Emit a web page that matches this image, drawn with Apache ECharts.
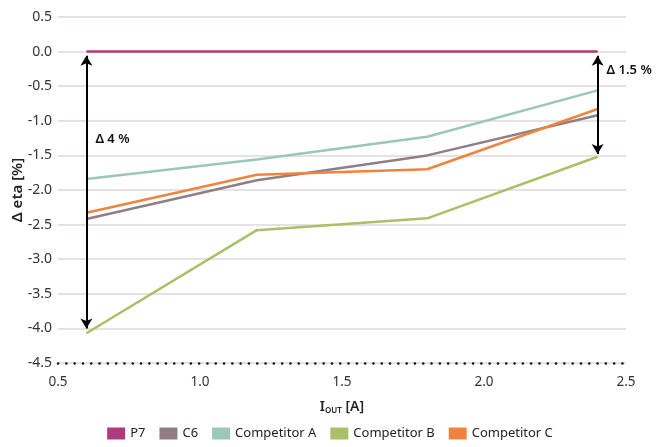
<!DOCTYPE html>
<html>
<head>
<meta charset="utf-8">
<script src="https://cdn.jsdelivr.net/npm/echarts@6/dist/echarts.min.js"></script>
<style>
  html, body { margin: 0; padding: 0; background: #fff; }
  #chart { width: 660px; height: 447px; }
</style>
</head>
<body>
<div id="chart"></div>
<script>
// current in A
var iout = [0.6, 1.2, 1.8, 2.4]
var seriesNames = ['P7', 'C6', 'Competitor A', 'Competitor B', 'Competitor C']
var colors = ['#b03a7e', '#8f7f84', '#9cc7b8', '#a9c068', '#f0843e']
// delta eta in %
var p7 = [0, 0, 0, 0]
var c6 = [-2.42, -1.86, -1.50, -0.92]
var compA = [-1.84, -1.56, -1.23, -0.56]
var compB = [-4.07, -2.58, -2.41, -1.52]
var compC = [-2.33, -1.78, -1.70, -0.83]
var values = [p7, c6, compA, compB, compC]

// arrows: [x, top, bottom, label, labelY]
var arrows = [
  [0.6, -0.06, -4.0, 'Δ 4 %', -1.27],
  [2.4, -0.06, -1.48, 'Δ 1.5 %', -0.27]
]

var font = 'Noto Sans'

var series = []
for (var i = 0; i < seriesNames.length; i++) {
  var pts = []
  for (var j = 0; j < iout.length; j++) {
    pts.push([iout[j], values[i][j]])
  }
  series.push({
    name: seriesNames[i],
    type: 'line',
    data: pts,
    showSymbol: false,
    symbol: 'none',
    lineStyle: { width: 2.5, color: colors[i] },
    itemStyle: { color: colors[i] },
    z: i === 0 ? 5 : 3
  })
}

// annotation series
series.push({
  name: 'arrows',
  type: 'line',
  data: [],
  z: 6,
  markLine: {
    silent: true,
    symbol: ['arrow', 'arrow'],
    symbolSize: [9, 10],
    label: { show: false },
    lineStyle: { color: '#000', width: 2, type: 'solid' },
    data: arrows.map(function (a) {
      return [{ coord: [a[0], a[1]] }, { coord: [a[0], a[2]] }]
    })
  },
  markPoint: {
    silent: true,
    symbol: 'circle',
    symbolSize: 0,
    label: {
      show: true,
      position: 'right',
      distance: 9,
      color: '#111',
      fontFamily: font,
      fontSize: 13,
      fontWeight: 600,
      formatter: function (p) { return p.name }
    },
    data: arrows.map(function (a) {
      return { name: a[3], coord: [a[0], a[4]] }
    })
  }
})

var chart = echarts.init(document.getElementById('chart'))
chart.setOption({
  animation: false,
  textStyle: { fontFamily: font },
  grid: { left: 58, right: 34, top: 17, bottom: 84, outerBoundsMode: 'none' },
  legend: {
    data: seriesNames,
    bottom: 2,
    left: 'center',
    itemWidth: 18,
    itemHeight: 12,
    itemGap: 14,
    icon: 'rect',
    textStyle: { color: '#222', fontSize: 13, fontFamily: font }
  },
  xAxis: {
    type: 'value',
    min: 0.5,
    max: 2.5,
    interval: 0.5,
    name: '{a|I}{b|OUT}{a| [A]}',
    nameLocation: 'middle',
    nameGap: 36,
    nameMoveOverlap: false,
    nameTextStyle: {
      rich: {
        a: { fontSize: 14, fontWeight: 600, color: '#222', fontFamily: font },
        b: { fontSize: 8, fontWeight: 600, color: '#222', fontFamily: font, padding: [8, 0, 0, 0] }
      }
    },
    axisLine: {
      show: true,
      onZero: false,
      lineStyle: { color: '#111', width: 2.5, type: [0.1, 8.2], cap: 'round' }
    },
    axisTick: { show: false },
    splitLine: { show: false },
    axisLabel: {
      color: '#333',
      fontSize: 13.5,
      margin: 12,
      formatter: function (v) { return v.toFixed(1) }
    }
  },
  yAxis: {
    type: 'value',
    min: -4.5,
    max: 0.5,
    interval: 0.5,
    name: 'Δ eta [%]',
    nameLocation: 'middle',
    nameGap: 33,
    nameMoveOverlap: false,
    nameTextStyle: { fontSize: 15, fontWeight: 600, color: '#222' },
    axisLine: { show: false },
    axisTick: { show: false },
    splitLine: { lineStyle: { color: '#e6e1e2', width: 2 } },
    axisLabel: {
      color: '#333',
      fontSize: 14,
      margin: 6,
      formatter: function (v) { return v.toFixed(1) }
    }
  },
  series: series
})
</script>
</body>
</html>
